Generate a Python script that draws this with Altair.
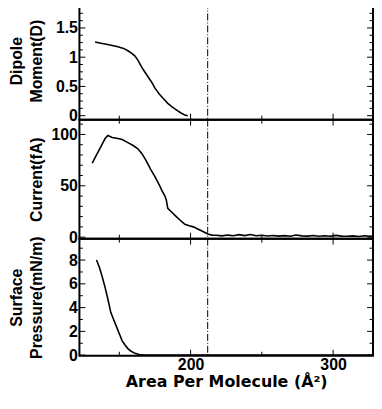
import altair as alt
import pandas as pd

# ---- data ----
area_dip = [133, 137, 141, 145, 149, 153, 156, 159, 161, 163, 165, 167, 170, 173, 175,
            178, 181, 184, 187, 190, 193, 196, 198]
dipole = [1.26, 1.24, 1.22, 1.20, 1.18, 1.15, 1.11, 1.06, 1.02, 0.95, 0.86, 0.78, 0.67,
          0.56, 0.47, 0.37, 0.29, 0.21, 0.15, 0.10, 0.05, 0.01, 0.0]

area_cur = [131, 134, 137, 140, 142, 145, 149, 152, 156, 160, 163, 166, 169, 172, 175,
            178, 180, 182, 183, 184, 187, 190, 193, 196, 199, 202, 205, 208, 210, 212,
            215, 218, 222, 226, 230, 234, 238, 242, 246, 250, 254, 258, 262, 266, 270,
            274, 278, 282, 286, 290, 294, 298, 302, 306, 310, 314, 318, 322, 326, 328]
current = [72, 80, 88, 96, 99, 97, 96, 95, 92, 89, 86, 81, 74, 66, 59,
           51, 45, 40, 36, 28, 24, 20, 16, 12.5, 11, 10, 8, 6, 4.5, 3,
           2, 1.8, 1.2, 2.0, 1.4, 2.4, 1.5, 2.6, 1.3, 1.8, 1.1, 1.6, 1.0, 1.5, 0.9,
           2.0, 1.2, 1.0, 1.6, 0.8, 1.3, 0.9, 1.7, 1.0, 0.8, 1.2, 0.7, 1.4, 0.9, 1.0]

area_pr = [134, 136, 138, 140, 142, 144, 146, 148, 150, 152, 154, 156, 158, 161, 164, 168, 328]
pressure = [8.0, 7.4, 6.6, 5.7, 4.7, 3.6, 3.0, 2.4, 1.8, 1.2, 0.85, 0.55, 0.35, 0.15, 0.05, 0.0, 0.0]

x_major = [200, 300]
x_minor = [150, 250]
x_domain = [122, 328]
dash_x = [212]

dip_major = [0, 0.5, 1, 1.5]
dip_minor = [0.125, 0.25, 0.375, 0.625, 0.75, 0.875, 1.125, 1.25, 1.375, 1.625, 1.75]
dip_domain = [-0.068, 1.95]

cur_major = [0, 50, 100]
cur_minor = [10, 20, 30, 40, 60, 70, 80, 90, 110]
cur_domain = [-1.5, 114.4]

pr_major = [0, 2, 4, 6, 8]
pr_minor = [1, 3, 5, 7, 9]
pr_domain = [-0.05, 9.8]

W = 296
FONT = "Liberation Sans"


def panel(area, vals, ydomain, ymajor, yminor, ytitle, height, show_x):
    df = pd.DataFrame({"a": area, "v": vals})
    yscale = alt.Scale(domain=ydomain, nice=False, zero=False)
    xscale = alt.Scale(domain=x_domain, nice=False, zero=False)
    yaxis = alt.Axis(values=ymajor, format="~f", title=ytitle, ticks=False, tickSize=0,
                     domain=False, grid=False, labelPadding=2, minExtent=30, maxExtent=30,
                     titlePadding=5, labelOverlap=False, labelFlush=False,
                     titleLineHeight=20,
                     labelFont=FONT, labelFontSize=16, labelFontWeight="bold",
                     labelColor="black", titleFont=FONT, titleFontSize=16,
                     titleFontWeight="bold", titleColor="black")
    if show_x:
        xaxis = alt.Axis(values=x_major, format="d", title="Area Per Molecule (Å²)",
                         ticks=False, tickSize=0, domain=False, grid=False,
                         labelPadding=1, titlePadding=1, titleFont="DejaVu Sans",
                         titleFontSize=16, labelOverlap=False,
                         labelFont=FONT, labelFontSize=16, labelFontWeight="bold",
                         labelColor="black", titleFontWeight="bold", titleColor="black")
    else:
        xaxis = None

    def Y(field="v"):
        return alt.Y(f"{field}:Q", scale=yscale, axis=yaxis)

    def X(field="a"):
        return alt.X(f"{field}:Q", scale=xscale, axis=xaxis)

    line = alt.Chart(df).mark_line(color="black", strokeWidth=1.6, clip=True).encode(
        x=X(), y=Y())

    dash = alt.Chart(pd.DataFrame({"a": dash_x})).mark_rule(
        color="black", strokeWidth=1, strokeDash=[7, 2, 1, 2]).encode(x=X())

    layers = [line, dash]
    for vals_, ln in ((ymajor, 6), (yminor, 3.5)):
        tdf = pd.DataFrame({"v": vals_})
        layers.append(alt.Chart(tdf).mark_rule(color="black", strokeWidth=1).encode(
            y=Y(), x=alt.value(0), x2=alt.value(ln)))
        layers.append(alt.Chart(tdf).mark_rule(color="black", strokeWidth=1).encode(
            y=Y(), x=alt.value(W), x2=alt.value(W - ln)))
    for vals_, ln in ((x_major, 6), (x_minor, 4)):
        tdf = pd.DataFrame({"a": vals_})
        layers.append(alt.Chart(tdf).mark_rule(color="black", strokeWidth=1).encode(
            x=X(), y=alt.value(height), y2=alt.value(height - ln)))
        layers.append(alt.Chart(tdf).mark_rule(color="black", strokeWidth=1).encode(
            x=X(), y=alt.value(0), y2=alt.value(ln)))
    return alt.layer(*layers).properties(width=W, height=height)


top = panel(area_dip, dipole, dip_domain, dip_major, dip_minor,
            ["Dipole", "Moment(D)"], 119, False)
mid = panel(area_cur, current, cur_domain, cur_major, cur_minor,
            "Current(fA)", 120, False)
bot = panel(area_pr, pressure, pr_domain, pr_major, pr_minor,
            ["Surface", "Pressure(mN/m)"], 118, True)

chart = alt.vconcat(top, mid, bot, spacing=0, bounds="flush").properties(
    padding={"left": 0, "top": -10, "right": -1, "bottom": 0},
    background="white"
).configure_view(
    stroke="black", strokeWidth=2
)

chart.save("out.html", embed_options={"renderer": "svg", "actions": False})
